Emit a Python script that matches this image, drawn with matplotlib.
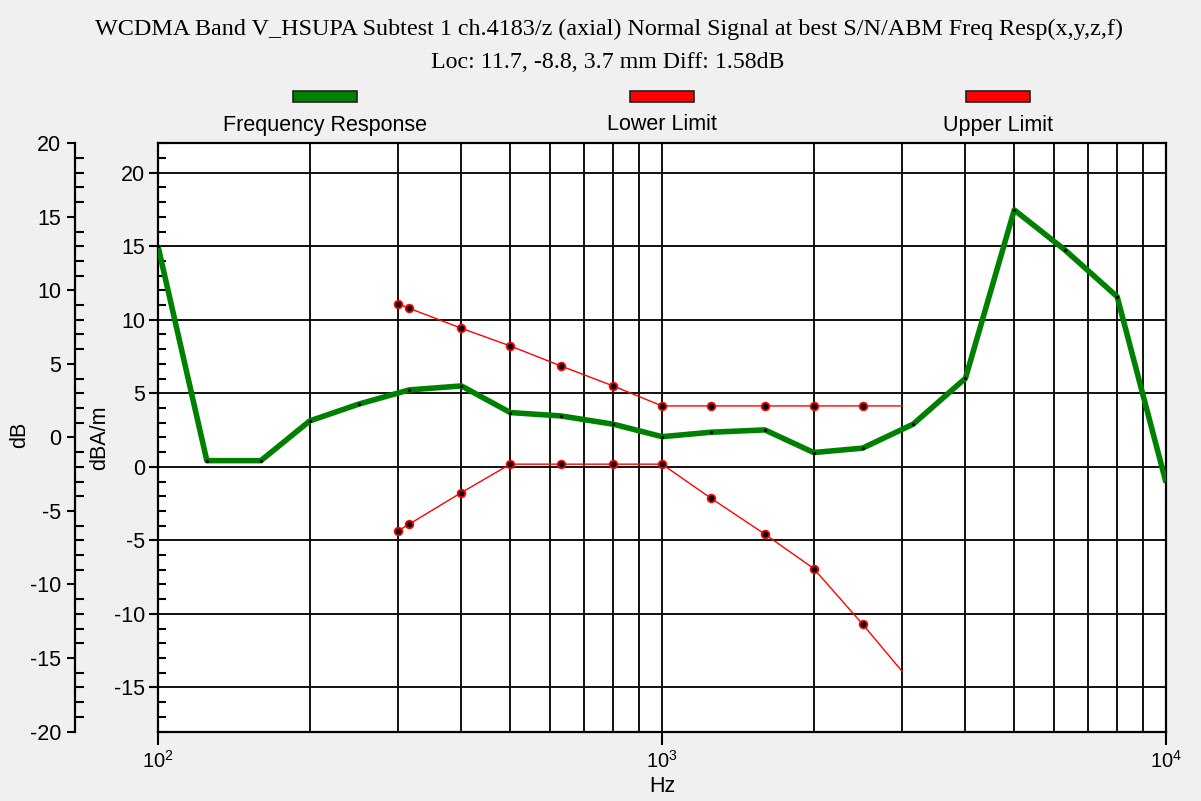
import math
import matplotlib
matplotlib.use("Agg")
import matplotlib.pyplot as plt
import matplotlib.patches as mpatches
from matplotlib.ticker import MultipleLocator, FixedLocator, NullFormatter, FuncFormatter

plt.rcParams['font.family'] = ['Liberation Sans', 'DejaVu Sans']
plt.rcParams['mathtext.fontset'] = 'custom'
plt.rcParams['mathtext.rm'] = 'Liberation Sans'
plt.rcParams['mathtext.it'] = 'Liberation Sans:italic'
plt.rcParams['mathtext.bf'] = 'Liberation Sans:bold'
plt.rcParams['axes.unicode_minus'] = False

# ---- data (dBA/m scale) ----
freqs = [100, 125, 160, 200, 250, 315, 400, 500, 630, 800, 1000,
         1250, 1600, 2000, 2500, 3150, 4000, 5000, 6300, 8000, 10000]
response = [15.0, 0.42, 0.42, 3.12, 4.26, 5.23, 5.5, 3.69, 3.46, 2.9, 2.05,
            2.35, 2.51, 0.97, 1.27, 2.9, 6.02, 17.47, 14.75, 11.57, -1.07]

limit_freqs = [300, 315, 400, 500, 630, 800, 1000, 1250, 1600, 2000, 2500, 3000]
lower_limit = [-4.34, -3.9, -1.75, 0.18, 0.18, 0.18, 0.18, -2.13, -4.58, -6.92, -10.7, -13.94]
upper_limit = [11.08, 10.78, 9.42, 8.22, 6.86, 5.5, 4.14, 4.14, 4.14, 4.14, 4.14, 4.14]

title_line1 = "WCDMA Band V_HSUPA Subtest 1 ch.4183/z (axial) Normal Signal at best S/N/ABM Freq Resp(x,y,z,f)"
title_line2 = "Loc: 11.7, -8.8, 3.7 mm Diff: 1.58dB"
legend_labels = ["Frequency Response", "Lower Limit", "Upper Limit"]

W, H = 1201, 801
PT = 72 / 100  # points per pixel at dpi 100
BG = '#f0f0f0'
GREEN = '#008000'
RED = '#ff0000'
FS = 15.5

fig = plt.figure(figsize=(W / 100, H / 100), dpi=100, facecolor=BG)


def fy(py):
    return 1 - py / H


left_px, right_px, top_px, bot_px = 158, 1166, 143.3, 731.5
ax = fig.add_axes([left_px / W, fy(bot_px), (right_px - left_px) / W, (bot_px - top_px) / H])
ax.set_facecolor('white')
ax.set_xscale('log')
ax.set_xlim(100, 10000)
ax.set_ylim(-18, 22)

# y ticks: labelled majors point outward, unit minors point inward
ax.yaxis.set_major_locator(MultipleLocator(5))
ax.yaxis.set_minor_locator(MultipleLocator(1))
ax.yaxis.set_major_formatter(FuncFormatter(lambda v, p: f"{v:.0f}" if -15 <= v <= 20 else ""))
ax.tick_params(axis='y', which='major', direction='out', length=9 * PT, width=1.5,
               labelsize=FS, pad=4 * PT, colors='black')
ax.tick_params(axis='y', which='minor', direction='in', length=8 * PT, width=1.5)

# x ticks: decades labelled, grid at every 1-9 multiple
ax.xaxis.set_major_locator(FixedLocator([100, 1000, 10000]))
ax.xaxis.set_major_formatter(FuncFormatter(lambda v, p: r"$\mathdefault{10^{%d}}$" % round(math.log10(v))))
minor_x = [m * d for d in (100, 1000) for m in range(2, 10)]
ax.xaxis.set_minor_locator(FixedLocator(minor_x))
ax.xaxis.set_minor_formatter(NullFormatter())
ax.tick_params(axis='x', which='major', direction='out', length=13 * PT, width=1.5,
               labelsize=FS - 1, pad=5 * PT)
ax.tick_params(axis='x', which='minor', length=0)

ax.grid(True, axis='y', which='major', color='#111111', lw=1.4)
ax.grid(True, axis='x', which='both', color='#111111', lw=1.4)
ax.set_axisbelow(True)
for s in ax.spines.values():
    s.set_linewidth(1.6)
    s.set_color('black')

# limits
for vals in (lower_limit, upper_limit):
    ax.plot(limit_freqs, vals, color=RED, lw=1.0, zorder=3)
    ax.plot(limit_freqs[:-1], vals[:-1], 'o', ms=5.5, mfc='black', mec=RED, mew=1.3, zorder=4)

# measured response
ax.plot(freqs, response, color=GREEN, lw=4.0, solid_joinstyle='round', solid_capstyle='butt', zorder=5)
ax.plot(freqs, response, 'o', ms=2.4, color='black', mew=0, zorder=6)

# outer dB scale
axo = fig.add_axes([75 / W, fy(bot_px), 0.0005, (bot_px - top_px) / H])
axo.patch.set_visible(False)
axo.set_ylim(-20, 20)
for k in ('top', 'right', 'bottom'):
    axo.spines[k].set_visible(False)
axo.spines['left'].set_linewidth(1.6)
axo.xaxis.set_visible(False)
axo.yaxis.set_major_locator(MultipleLocator(5))
axo.yaxis.set_minor_locator(MultipleLocator(1))
axo.tick_params(axis='y', which='major', direction='out', length=8 * PT, width=1.5,
                labelsize=FS, pad=6 * PT)
axo.tick_params(axis='y', which='minor', direction='in', length=9 * PT, width=1.5)

# axis labels
fig.text(20 / W, fy(435), 'dB', rotation=90, ha='center', va='center', fontsize=FS)
fig.text(100 / W, fy(438), 'dBA/m', rotation=90, ha='center', va='center', fontsize=FS)
fig.text(662 / W, fy(787), 'Hz', ha='center', va='center', fontsize=FS)

# titles
fig.text(608.5 / W, fy(29), title_line1, ha='center', va='center', fontsize=17.4,
         family='Liberation Serif')
fig.text(608 / W, fy(63), title_line2, ha='center', va='center', fontsize=17.2,
         family='Liberation Serif')

# legend
legend_colors = [GREEN, RED, RED]
legend_centers = [325, 662, 998]
for lab, col, cx in zip(legend_labels, legend_colors, legend_centers):
    rect = mpatches.Rectangle(((cx - 32) / W, fy(102)), 64 / W, 11 / H,
                              transform=fig.transFigure, facecolor=col,
                              edgecolor='#222222', lw=1.2)
    fig.patches.append(rect)
    fig.text(cx / W, fy(125), lab, ha='center', va='center', fontsize=FS)

fig.savefig('out.png', dpi=100, facecolor=BG)
